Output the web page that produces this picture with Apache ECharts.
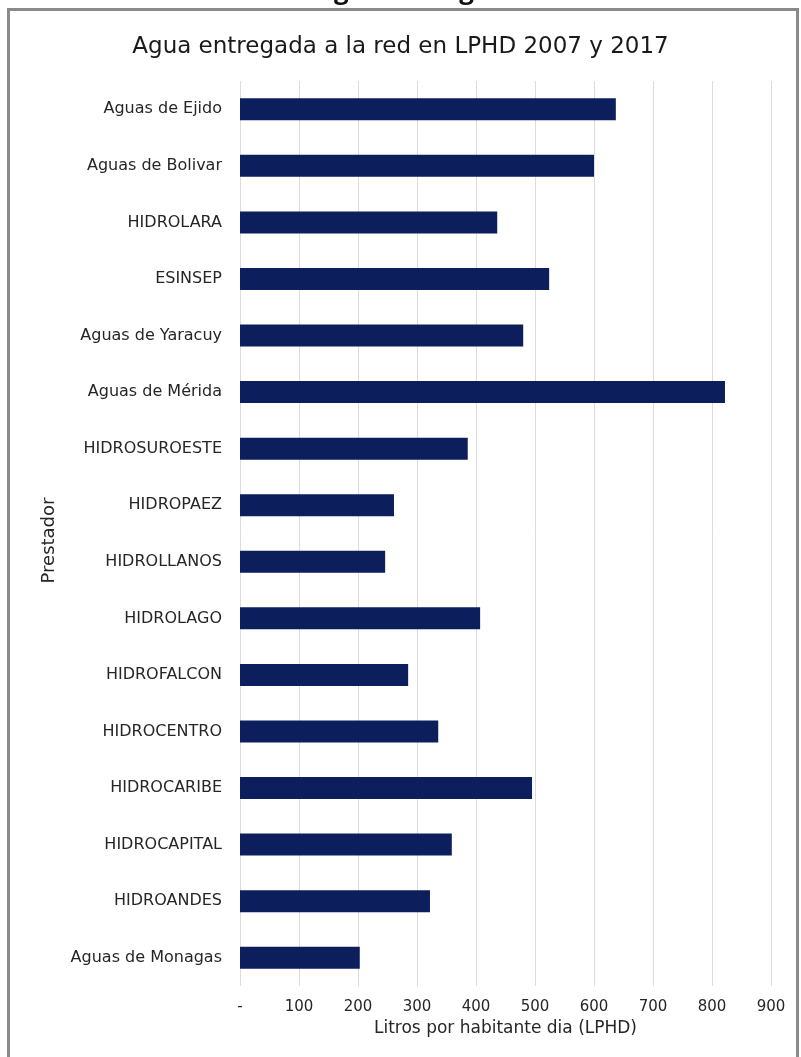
<!DOCTYPE html>
<html>
<head>
<meta charset="utf-8">
<script src="https://cdn.jsdelivr.net/npm/echarts@6/dist/echarts.min.js"></script>
<style>html,body{margin:0;padding:0;background:#fff;}#c{width:801px;height:1057px;}</style>
</head>
<body>
<div id="c"></div>
<script>
const categories = ["Aguas de Ejido","Aguas de Bolivar","HIDROLARA","ESINSEP","Aguas de Yaracuy","Aguas de Mérida","HIDROSUROESTE","HIDROPAEZ","HIDROLLANOS","HIDROLAGO","HIDROFALCON","HIDROCENTRO","HIDROCARIBE","HIDROCAPITAL","HIDROANDES","Aguas de Monagas"];
const lphd = [637,600,436,524,480,822,386,261,246,407,285,336,495,359,322,203];
const xTicks = {min:0, max:900, interval:100};
const titleText = "Agua entregada a la red en LPHD 2007 y 2017";
const xName = "Litros por habitante dia (LPHD)";
const yName = "Prestador";

const chart = echarts.init(document.getElementById('c'));
const font = "'DejaVu Sans', sans-serif";
chart.setOption({
  animation:false,
  backgroundColor:'#fff',
  title:{text:titleText,left:'center',top:31,textStyle:{fontFamily:font,fontSize:23,fontWeight:'normal',color:'#1a1a1a'}},
  graphic:[
    {type:'rect',shape:{x:8.5,y:9.5,width:789,height:1100},style:{fill:'none',stroke:'#8a8a8a',lineWidth:3},z:100},
    {type:'text',x:420,y:-21,style:{text:'agua entregada',font:"bold 26px 'Open Sans', sans-serif",fill:'#111',align:'center',verticalAlign:'top'},z:99}
  ],
  grid:{left:240,right:30,top:81,bottom:71,containLabel:false},
  xAxis:{type:'value',min:xTicks.min,max:xTicks.max,interval:xTicks.interval,
    name:xName,nameLocation:'middle',nameGap:32,
    nameTextStyle:{fontFamily:font,fontSize:17,color:'#262626'},
    axisLine:{show:false},axisTick:{show:false},
    axisLabel:{fontFamily:font,fontSize:15,color:'#262626',margin:14,formatter:v=>v===0?'-':String(v)},
    splitLine:{show:true,lineStyle:{color:'#dcdcdc',width:1}}},
  yAxis:{type:'category',data:categories,inverse:true,
    name:yName,nameLocation:'middle',nameGap:182,
    nameTextStyle:{fontFamily:font,fontSize:18,color:'#262626',padding:[0,14,0,0]},
    axisLine:{show:false},axisTick:{show:false},
    axisLabel:{fontFamily:font,fontSize:16,color:'#262626',margin:18}},
  series:[{type:'bar',data:lphd,barWidth:22,itemStyle:{color:'#0d1e5c'}}]
});
</script>
</body>
</html>
